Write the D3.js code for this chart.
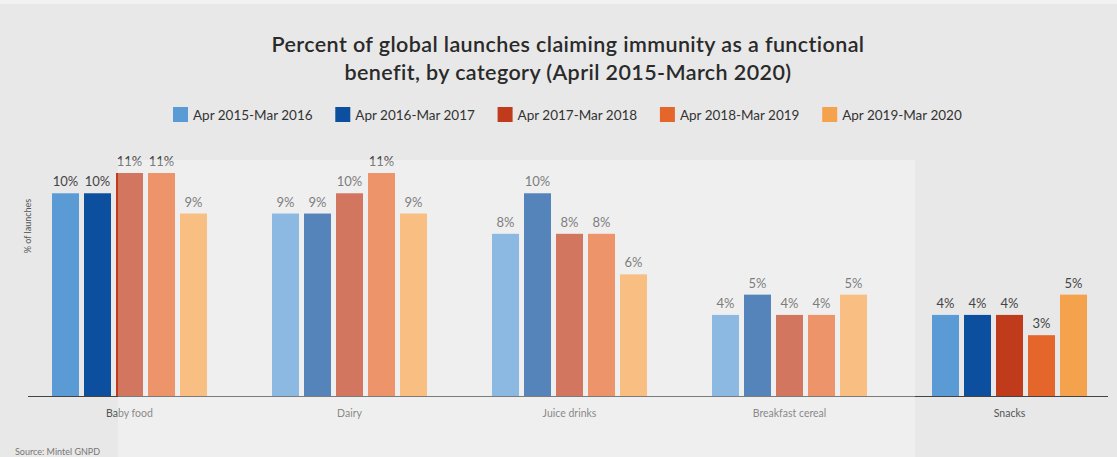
<!DOCTYPE html>
<html><head><meta charset="utf-8">
<script src="https://cdn.jsdelivr.net/npm/d3@7"></script>
<style>body{margin:0;background:#e8e8e8;}svg{display:block;font-family:Lato, "Open Sans", sans-serif;}</style>
</head><body>
<svg id="c" width="1117" height="457"></svg>
<script>
const categories = ["Baby food","Dairy","Juice drinks","Breakfast cereal","Snacks"];
const seriesNames = ["Apr 2015-Mar 2016","Apr 2016-Mar 2017","Apr 2017-Mar 2018","Apr 2018-Mar 2019","Apr 2019-Mar 2020"];
const s2016 = [10, 9, 8, 4, 4];
const s2017 = [10, 9, 10, 5, 4];
const s2018 = [11, 10, 8, 4, 4];
const s2019 = [11, 11, 8, 4, 3];
const s2020 = [9, 9, 6, 5, 5];
const seriesValues = [s2016, s2017, s2018, s2019, s2020];
const colors = ["#5a9bd6","#0c4f9e","#bf3b1c","#e5662a","#f5a24c"];

const svg = d3.select("#c");
svg.append("rect").attr("width",1117).attr("height",457).attr("fill","#e8e8e8");
svg.append("rect").attr("width",1117).attr("height",4).attr("fill","#f2f2f2");

// title
const title = svg.append("text").attr("text-anchor","middle").attr("fill","#2a2a2a")
  .style("font-size","21.5px").style("font-weight","600").style("letter-spacing","0.4px");
title.append("tspan").attr("x",568).attr("y",52).text("Percent of global launches claiming immunity as a functional");
title.append("tspan").attr("x",568).attr("y",80).text("benefit, by category (April 2015-March 2020)");

// legend
const lg = svg.append("g");
seriesNames.forEach((s,i)=>{
  const gx = 173 + i*162.3;
  lg.append("rect").attr("x",gx).attr("y",107).attr("width",15).attr("height",15).attr("fill",colors[i]);
  lg.append("text").attr("x",gx+20).attr("y",120).attr("fill","#333").style("font-size","13.5px").text(s);
});

const y = d3.scaleLinear().domain([0,11]).range([396,173]);
const x0 = d3.scaleBand().domain(categories).range([19.5,1119.5]);
const x1 = d3.scaleBand().domain(seriesNames).range([-77.5,77.5]).paddingInner(5/32).paddingOuter(0);

// y label
svg.append("text").attr("transform","translate(31,226) rotate(-90)").attr("text-anchor","middle")
  .attr("fill","#555").style("font-size","9px").text("% of launches");

const data = [];
categories.forEach((c,ci)=>seriesNames.forEach((s,si)=>data.push({c,s,si,v:seriesValues[si][ci]})));

const g = svg.append("g");
g.selectAll("rect.bar").data(data).join("rect").attr("class","bar")
  .attr("x",d=>x0(d.c)+x0.bandwidth()/2+x1(d.s)).attr("width",x1.bandwidth())
  .attr("y",d=>y(d.v)).attr("height",d=>y(0)-y(d.v)).attr("fill",d=>colors[d.si]);
g.selectAll("text.lbl").data(data).join("text").attr("class","lbl")
  .attr("x",d=>x0(d.c)+x0.bandwidth()/2+x1(d.s)+x1.bandwidth()/2).attr("y",d=>y(d.v)-7)
  .attr("text-anchor","middle").attr("fill","#444").style("font-size","13px").text(d=>d.v+"%");

// x axis
const xAxis = d3.axisBottom(x0).tickSize(0).tickPadding(14);
const ax = svg.append("g").attr("transform","translate(0,396)").call(xAxis);
ax.select(".domain").remove();
ax.selectAll("text").attr("fill","#555").style("font-size","10.5px").style("font-family","Lato, sans-serif");
svg.append("line").attr("x1",28).attr("x2",1108).attr("y1",396.5).attr("y2",396.5).attr("stroke","#444").attr("stroke-width",1.2);

// source
svg.append("text").attr("x",15).attr("y",455).attr("fill","#777").style("font-size","9px").text("Source: Mintel GNPD");

// watermark-like light overlay panel
svg.append("rect").attr("x",118).attr("y",160).attr("width",797).attr("height",297)
  .attr("fill","#ffffff").attr("opacity",0.3);
</script>
</body></html>
